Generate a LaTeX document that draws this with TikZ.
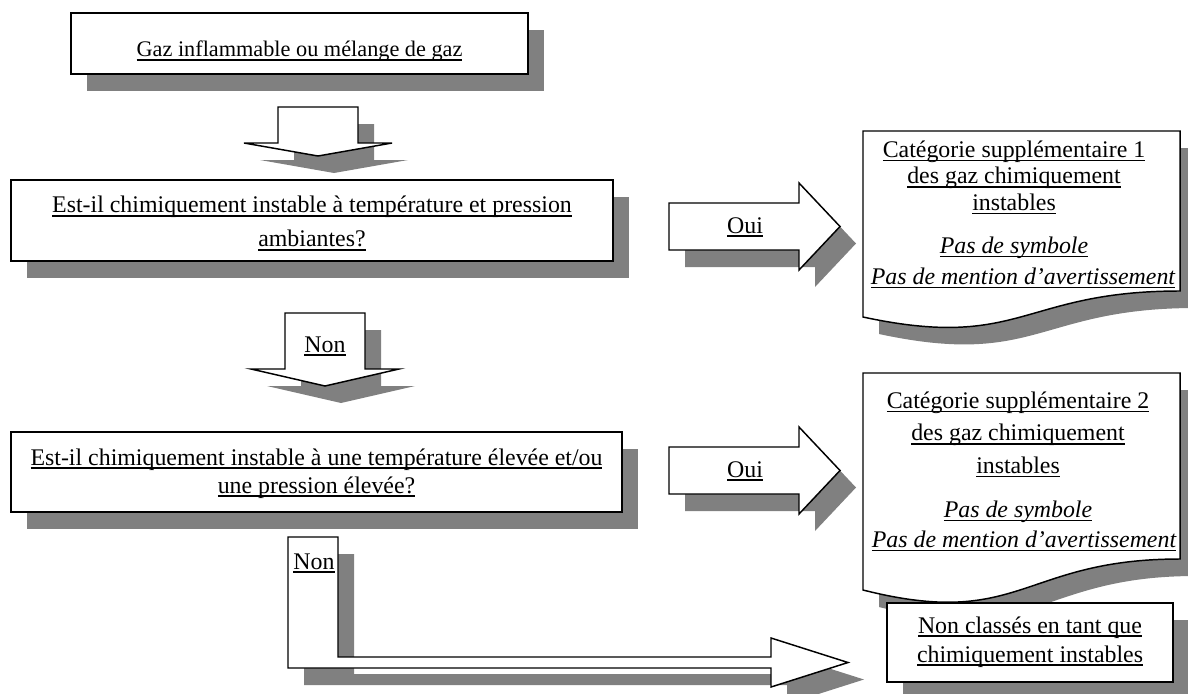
\documentclass[tikz,border=0pt]{standalone}
\usepackage{fontspec}
\setmainfont{Liberation Serif}
\usetikzlibrary{shadows}
\definecolor{shadowgray}{HTML}{808080}
\newcommand\ulin[1]{\leavevmode\setbox0\hbox{#1}\rlap{\rule[-2.8pt]{\wd0}{1.1pt}}\box0}
\newcommand\fA{\fontsize{17.9}{25.5}\selectfont}
\newcommand\stA{\rule[-3.8pt]{0pt}{27.8pt}}
\newcommand\stB{\rule[-5.6pt]{0pt}{25.4pt}}
\newcommand\stC{\rule[-5.2pt]{0pt}{20.9pt}}
\newcommand\stD{\rule[-7pt]{0pt}{21.5pt}}
\newcommand\stE{\rule[-5.5pt]{0pt}{19.5pt}}
\begin{document}
\begin{tikzpicture}[x=0.75pt,y=-0.75pt,
  box/.style={draw, fill=white, line width=1.1pt, inner sep=0pt, align=center,
    drop shadow={opacity=1, fill=shadowgray, shadow xshift=12pt, shadow yshift=-12.75pt}},
  blk/.style={draw, fill=white, line width=1.1pt, line join=miter},
  shd/.style={fill=shadowgray, shift={(16,17)}},
  lbl/.style={anchor=base, inner sep=0pt, font=\fA},
  doctext/.style={anchor=north, inner sep=0pt, align=center}
]
\useasboundingbox (0,0) rectangle (1188,693);

% ---------- boxes ----------
\node[box, minimum width=342.75pt, minimum height=45.75pt,
      font=\fontsize{16.7}{20}\selectfont] (start) at (299.5,43.5)
  {\stA\ulin{Gaz inflammable ou mélange de gaz}};

\node[box, minimum width=451.5pt, minimum height=60.75pt, font=\fontsize{17.9}{25.5}\selectfont]
  (q1) at (312,220.5)
  {\stB\ulin{Est-il chimiquement instable à température et pression}\\
   \stB\ulin{ambiantes?}};

\node[box, minimum width=458.25pt, minimum height=60pt, font=\fontsize{17.9}{21}\selectfont]
  (q2) at (316.5,472)
  {\stC\ulin{Est-il chimiquement instable à une température élevée et/ou}\\
   \stC\ulin{une pression élevée?}};

% ---------- arrow 1 (down) ----------
\fill[shd] (278,107) -- (358,107) -- (358,143) -- (392,143) -- (318,156) -- (244,143) -- (278,143) -- cycle;
\path[blk] (278,107) -- (358,107) -- (358,143) -- (392,143) -- (318,156) -- (244,143) -- (278,143) -- cycle;

% ---------- arrow 2 (down, Non) ----------
\fill[shd] (285,313) -- (365,313) -- (365,369) -- (399,369) -- (325,386) -- (251,369) -- (285,369) -- cycle;
\path[blk] (285,313) -- (365,313) -- (365,369) -- (399,369) -- (325,386) -- (251,369) -- (285,369) -- cycle;
\node[lbl] (non1) at (325,352) {\ulin{Non}};

% ---------- Oui arrows ----------
\fill[shd] (669,203) -- (799,203) -- (799,183) -- (840,226.5) -- (799,270) -- (799,250) -- (669,250) -- cycle;
\path[blk] (669,203) -- (799,203) -- (799,183) -- (840,226.5) -- (799,270) -- (799,250) -- (669,250) -- cycle;
\node[lbl] (oui1) at (745,233) {\ulin{Oui}};

\fill[shd] (669,447) -- (799,447) -- (799,427) -- (840,470.5) -- (799,514) -- (799,494) -- (669,494) -- cycle;
\path[blk] (669,447) -- (799,447) -- (799,427) -- (840,470.5) -- (799,514) -- (799,494) -- (669,494) -- cycle;
\node[lbl] (oui2) at (745,477) {\ulin{Oui}};

% ---------- bent arrow (Non) ----------
\fill[shd] (288,537) -- (338,537) -- (338,657) -- (771,657) -- (771,638) -- (848,662.5) -- (771,687) -- (771,668) -- (288,668) -- cycle;
\path[blk] (288,537) -- (338,537) -- (338,657) -- (771,657) -- (771,638) -- (848,662.5) -- (771,687) -- (771,668) -- (288,668) -- cycle;
\node[lbl] (non2) at (314,569) {\ulin{Non}};

% ---------- document 1 ----------
\fill[shd] (863,131) -- (1180,131) -- (1180,291) .. controls (1021.5,291) and (1021.5,351) .. (863,317) -- cycle;
\path[blk] (863,131) -- (1180,131) -- (1180,291) .. controls (1021.5,291) and (1021.5,351) .. (863,317) -- cycle;
\node[doctext, font=\fontsize{17.9}{19.9}\selectfont] (cat1) at (1014,138.3)
  {\stE\ulin{Catégorie supplémentaire 1}\\
   \stE\ulin{des gaz chimiquement}\\
   \stE\ulin{instables}\\[12.4pt]
   \stE\ulin{\itshape Pas de symbole}\\[3.4pt]
   \hspace*{13.5pt}\stE\ulin{\itshape Pas de mention d’avertissement}};

% ---------- document 2 ----------
\fill[shd] (863,373) -- (1180,373) -- (1180,559) .. controls (1021.5,559) and (1021.5,630) .. (863,590) -- cycle;
\path[blk] (863,373) -- (1180,373) -- (1180,559) .. controls (1021.5,559) and (1021.5,630) .. (863,590) -- cycle;
\node[doctext, font=\fontsize{17.9}{24.4}\selectfont] (cat2) at (1018,389.3)
  {\stE\ulin{Catégorie supplémentaire 2}\\
   \stE\ulin{des gaz chimiquement}\\
   \stE\ulin{instables}\\[8.6pt]
   \stE\ulin{\itshape Pas de symbole}\\[-1.9pt]
   \hspace*{9pt}\stE\ulin{\itshape Pas de mention d’avertissement}};

% ---------- not classified ----------
\node[box, minimum width=214.5pt, minimum height=59.25pt, font=\fontsize{17.9}{21.75}\selectfont]
  (nc) at (1030,642.5)
  {\stD\ulin{Non classés en tant que}\\
   \stD\ulin{chimiquement instables}};
\end{tikzpicture}
\end{document}
